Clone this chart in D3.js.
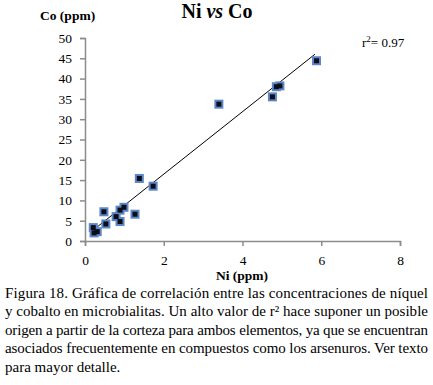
<!DOCTYPE html>
<html><head><meta charset="utf-8">
<script src="https://cdn.jsdelivr.net/npm/d3@7"></script>
<style>body{margin:0;background:#fff;}svg{display:block;}</style>
</head><body>
<svg id="c" width="433" height="385"></svg>
<script>
const niValues = [3.40, 4.76, 4.86, 4.95, 5.88, 1.38, 1.73, 0.48, 0.99, 0.89, 0.79, 1.27, 0.89, 0.53, 0.21, 0.31, 0.23];
const coValues = [33.7, 35.5, 38.0, 38.2, 44.4, 15.4, 13.5, 7.2, 8.3, 7.6, 6.0, 6.6, 4.8, 4.2, 3.3, 2.3, 2.0];
const xTicks = [0, 2, 4, 6, 8];
const yTicks = [0, 5, 10, 15, 20, 25, 30, 35, 40, 45, 50];
const trendX = [0.21, 5.84];
const trendY = [2.7, 46.0];
const title = ["Ni ", "vs", " Co"];
const captionLines = [
 "Figura 18. Gráfica de correlación entre las concentraciones de níquel",
 "y cobalto en microbialitas. Un alto valor de r² hace suponer un posible",
 "origen a partir de la corteza para ambos elementos, ya que se encuentran",
 "asociados frecuentemente en compuestos como los arsenuros. Ver texto",
 "para mayor detalle."
];

const svg = d3.select("#c");
const font = "Liberation Serif";
const x = d3.scaleLinear().domain([0, 8]).range([85, 400]);
const y = d3.scaleLinear().domain([0, 50]).range([241, 38]);
const axisColor = "#8c8c8c";

const gx = svg.append("g").attr("transform", "translate(0,241)")
  .call(d3.axisBottom(x).tickValues(xTicks).tickSize(5).tickPadding(9).tickFormat(d3.format("d")));
const gy = svg.append("g").attr("transform", "translate(85,0)")
  .call(d3.axisLeft(y).tickValues(yTicks).tickSize(5).tickPadding(8).tickFormat(d3.format("d")));
[gx, gy].forEach(g => {
  g.attr("font-family", font).attr("font-size", 13.5);
  g.select(".domain").attr("stroke", axisColor).attr("stroke-width", 1.5);
  g.selectAll(".tick line").attr("stroke", axisColor).attr("stroke-width", 1.5);
  g.selectAll(".tick text").attr("fill", "#000");
});

// trend line
svg.append("line")
  .attr("x1", x(trendX[0])).attr("y1", y(trendY[0]))
  .attr("x2", x(trendX[1])).attr("y2", y(trendY[1]))
  .attr("stroke", "#000").attr("stroke-width", 1);

// markers
const pts = niValues.map((v, i) => ({ni: v, co: coValues[i]}));
const g = svg.append("g");
g.selectAll("rect.o").data(pts).join("rect").attr("class", "o")
  .attr("x", d => x(d.ni) - 4.5).attr("y", d => y(d.co) - 4.5)
  .attr("width", 9).attr("height", 9).attr("fill", "#5b87c5");
g.selectAll("rect.i").data(pts).join("rect").attr("class", "i")
  .attr("x", d => x(d.ni) - 2.5).attr("y", d => y(d.co) - 2.5)
  .attr("width", 5).attr("height", 5).attr("fill", "#0d0d1a");

// title
const t = svg.append("text").attr("x", 217).attr("y", 18).attr("text-anchor", "middle")
  .attr("font-family", font).attr("font-size", 20).attr("font-weight", "bold");
title.forEach((s, i) => t.append("tspan").text(s).attr("font-style", i === 1 ? "italic" : "normal"));

svg.append("text").attr("x", 40).attr("y", 20).text("Co (ppm)")
  .attr("font-family", font).attr("font-size", 13.5).attr("font-weight", "bold");
svg.append("text").attr("x", 242).attr("y", 280).attr("text-anchor", "middle").text("Ni (ppm)")
  .attr("font-family", font).attr("font-size", 13.5).attr("font-weight", "bold");
const r = svg.append("text").attr("x", 362).attr("y", 47).attr("font-family", font).attr("font-size", 13);
r.append("tspan").text("r");
r.append("tspan").text("2").attr("dy", -5).attr("font-size", 9);
r.append("tspan").text("= 0.97").attr("dy", 5);

// caption
captionLines.forEach((line, i) => {
  const tx = svg.append("text").attr("x", 5).attr("y", 298 + i * 18.4)
    .attr("font-family", font).attr("font-size", 15).text(line);
  if (i < captionLines.length - 1) tx.attr("textLength", 423).attr("lengthAdjust", "spacing");
});
</script>
</body></html>
